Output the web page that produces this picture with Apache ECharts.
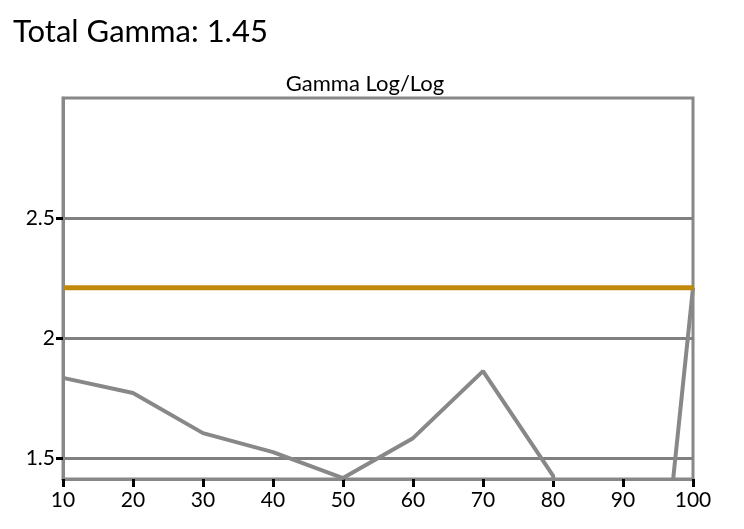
<!DOCTYPE html>
<html>
<head>
<meta charset="utf-8">
<script src="https://cdn.jsdelivr.net/npm/echarts@6/dist/echarts.min.js"></script>
<style>
  html, body { margin: 0; padding: 0; background: #fff; }
  #chart { width: 744px; height: 529px; }
</style>
</head>
<body>
<div id="chart"></div>
<script>
"use strict";

// 数据
let x_values = [10, 20, 30, 40, 50, 60, 70, 80, 90, 100];
let gamma_values = [1.835, 1.772, 1.605, 1.526, 1.418, 1.584, 1.863, 1.428, -0.6, 2.21];
let target_gamma = 2.21;
let y_ticks = [1.5, 2, 2.5];
let total_gamma = 1.45;

let font = 'Lato, "Open Sans", sans-serif';

let myChart = echarts.init(document.getElementById('chart'));

let option = {
  animation: false,
  title: [
    { // 总标题
      text: "Total Gamma: " + total_gamma,
      left: 8,
      top: 11,
      textStyle: { fontFamily: font, fontSize: 31, fontWeight: 'normal', color: '#000' },
    },
    { // 图表标题
      text: "Gamma Log/Log",
      left: 360,
      top: 68,
      textAlign: 'center',
      textStyle: { fontFamily: font, fontSize: 22, fontWeight: 'normal', color: '#000' },
    },
  ],
  grid: {
    left: 63,
    right: 51,
    top: 98,
    bottom: 50,
    show: true,
    borderColor: '#888',
    borderWidth: 3,
    backgroundColor: '#fff',
  },
  xAxis: {
    type: 'value',
    min: 10,
    max: 100,
    interval: 10,
    axisLine: { show: true, lineStyle: { color: '#888', width: 3 } },
    axisTick: { show: true, length: 8, lineStyle: { color: '#000', width: 3 } },
    axisLabel: { color: '#000', fontFamily: font, fontSize: 21, margin: 11 },
    splitLine: { show: false },
  },
  yAxis: {
    type: 'value',
    min: 1.414,
    max: 3.0,
    axisLine: { show: true, lineStyle: { color: '#888', width: 3 } },
    axisTick: { show: true, length: 7, customValues: y_ticks, lineStyle: { color: '#000', width: 3 } },
    axisLabel: { color: '#000', fontFamily: font, fontSize: 21, margin: 8, customValues: y_ticks },
    splitLine: { show: true, lineStyle: { color: '#808080', width: 3 } },
  },
  series: [
    {
      name: 'Target',
      type: 'line',
      data: [[x_values[0], target_gamma], [x_values[x_values.length - 1], target_gamma]],
      symbol: 'none',
      lineStyle: { color: '#BF8A0C', width: 5 },
      z: 3,
    },
    {
      name: 'Gamma',
      type: 'line',
      data: x_values.map(function (x, i) { return [x, gamma_values[i]]; }),
      symbol: 'none',
      clip: true,
      lineStyle: { color: '#888', width: 4 },
      z: 2,
    },
  ],
};

myChart.setOption(option);
</script>
</body>
</html>
